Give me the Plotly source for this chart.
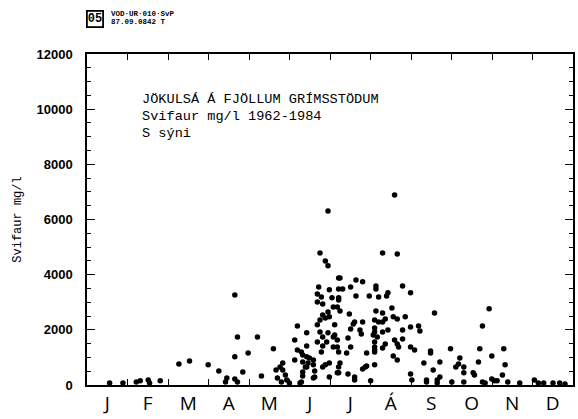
import plotly.graph_objects as go

# Day of year (0-365) and suspended sediment (mg/l)
day = [17, 27, 37, 40, 46, 47, 55, 69, 77, 91, 99, 104, 111, 113, 128, 121, 111, 140, 117, 131,
       142, 143, 111, 113, 105,
       181, 175, 179, 181, 189, 174, 182, 173, 176, 184, 173, 189, 177, 185, 181, 177, 182, 175,
       179, 173, 158, 186, 165, 175, 181, 177, 185, 173, 180, 188, 156, 165, 177, 185, 158, 161,
       176, 189, 162, 165, 167, 156, 170, 162, 166, 170, 179, 182, 164, 147, 147, 162, 171, 189,
       149, 162, 146, 161, 171, 152, 145, 150, 160, 165, 170, 177, 182,
       231, 222, 233, 190, 202, 207, 189, 192, 198, 217, 217, 237, 202, 212, 219, 225, 226, 243,
       189, 188, 190, 197, 217, 222, 229, 239, 201, 207, 200, 216, 219, 222, 224, 230, 233, 216,
       198, 205, 206, 243, 249, 216, 222, 226, 237, 215, 218, 186, 196, 237, 216, 231, 224, 233,
       188, 198, 216, 234, 243, 246, 216, 222, 195, 210, 216, 230, 233, 190, 189, 210, 207, 216,
       188, 196, 201, 243, 201, 213, 244, 209,
       261, 302, 250, 297, 258, 258, 273, 295, 253, 265, 280, 294, 304, 260, 279, 277, 283, 283,
       290, 291, 255, 263, 265, 263, 283, 297, 304, 306, 274, 313, 314, 312, 255, 299, 308, 316,
       325, 336, 339, 343, 350, 355, 359]
value = [70, 70, 110, 150, 180, 70, 150, 760, 870, 730, 510, 110, 3260, 1740, 1740, 1160, 1020,
         1310, 470, 330, 540, 250, 220, 110, 250,
         6310, 4790, 4500, 4320, 3880, 3550, 3450, 3300, 3190, 3160, 3010, 3080, 2940, 2830, 2650,
         2540, 2470, 2360, 2430, 2180, 2140, 2180, 1890, 1920, 1890, 1740, 1740, 1560, 1560, 1630,
         1630, 1410, 1410, 1380, 1270, 1200, 1200, 1200, 1090, 1020, 980, 910, 910, 830, 800, 730,
         730, 800, 650, 800, 540, 470, 510, 440, 360, 330, 110, 110, 290, 70, 650, 180, 70, 650,
         250, 650, 290,
         6890, 4790, 4750, 3880, 3810, 3740, 3480, 3480, 3550, 3590, 3480, 3590, 3230, 3230, 3190,
         3230, 3340, 3340, 3160, 2830, 2680, 2570, 2680, 2610, 2790, 2470, 2280, 2280, 2210, 2360,
         2280, 2280, 2390, 2470, 2390, 2070, 2030, 1990, 1850, 2100, 2140, 1920, 1920, 1990, 1990,
         1810, 1740, 1810, 1700, 1670, 1560, 1630, 1490, 1490, 1380, 1380, 1380, 1380, 1380, 1270,
         1270, 1340, 1160, 1160, 1200, 1050, 910, 800, 650, 690, 580, 730, 440, 400, 290, 400, 180,
         150, 180, 650,
         2610, 2760, 1960, 2140, 1230, 1160, 1310, 1310, 800, 830, 980, 830, 1050, 540, 760, 650,
         650, 440, 440, 360, 180, 180, 290, 70, 110, 110, 220, 150, 110, 1310, 730, 360, 110, 70,
         150, 110, 70, 180, 70, 70, 70, 70, 40]

months = ["J", "F", "M", "A", "M", "J", "J", "Á", "S", "O", "N", "D"]
title_lines = ["JÖKULSÁ Á FJÖLLUM GRÍMSSTÖDUM", "Svifaur mg/l 1962-1984", "S sýni"]
header_tag = "05"
header_lines = ["VOD·UR·010·SvP", "87.09.0842 T"]

year_len = 365.0
month_len = year_len / 12
month_mid = [(i + 0.5) * month_len for i in range(12)]
month_edge = [i * month_len for i in range(13)]

fig = go.Figure()
fig.add_trace(go.Scatter(
    x=day, y=value, mode="markers",
    marker=dict(color="black", size=5.5, line=dict(width=0)),
    cliponaxis=False, showlegend=False, hoverinfo="skip"))
# invisible trace to carry the month-boundary tick axis
fig.add_trace(go.Scatter(x=[0, year_len], y=[0, 0], xaxis="x2", mode="markers",
                         marker=dict(opacity=0), showlegend=False, hoverinfo="skip"))

W, H, L, R, T, B = 578, 419, 87, 5, 54, 34
pw, ph = W - L - R, H - T - B


def px(x):
    return (x - L) / pw


def py(y):
    return 1 - (y - T) / ph


ann = []
for i, t in enumerate(title_lines):
    ann.append(dict(x=px(140), y=py(100 + i * 16.5), xref="paper", yref="paper", text=t,
                    showarrow=False, xanchor="left", yanchor="middle",
                    font=dict(family="Liberation Mono", size=13.6, color="black")))
ann.append(dict(x=px(86), y=py(18.5), xref="paper", yref="paper", text="<b>" + header_tag + "</b>",
                showarrow=False, xanchor="left", yanchor="middle",
                bordercolor="black", borderwidth=1.8, borderpad=0,
                font=dict(family="Liberation Mono", size=12, color="black")))
for i, t in enumerate(header_lines):
    ann.append(dict(x=px(109), y=py(14.5 + i * 7.5), xref="paper", yref="paper",
                    text="<b>" + t + "</b>", showarrow=False, xanchor="left", yanchor="middle",
                    font=dict(family="Liberation Mono", size=7.5, color="black")))

fig.update_layout(
    width=W, height=H,
    margin=dict(l=L, r=R, t=T, b=B, autoexpand=False),
    paper_bgcolor="white", plot_bgcolor="white",
    xaxis=dict(range=[0, year_len], tickmode="array", tickvals=month_mid, ticktext=months,
               ticks="", showline=True, linecolor="black", linewidth=1.5, mirror=True,
               showgrid=False, zeroline=False, ticklabelstandoff=0, automargin=False,
               tickfont=dict(family="Open Sans", size=19, color="black")),
    xaxis2=dict(range=[0, year_len], overlaying="x", anchor="y", side="bottom",
                tickmode="array", tickvals=month_edge, ticks="inside", ticklen=6,
                tickwidth=1.3, tickcolor="black", mirror="ticks", automargin=False,
                showticklabels=False, showgrid=False, zeroline=False, showline=False),
    yaxis=dict(range=[0, 12000], tickmode="linear", tick0=0, dtick=2000, tickformat="d",
               ticks="inside", ticklen=8, tickwidth=1.3, tickcolor="black",
               minor=dict(dtick=500, ticks="inside", ticklen=4, tickwidth=1.2, tickcolor="black"),
               showline=True, linecolor="black", linewidth=1.5, mirror="ticks",
               showgrid=False, zeroline=False, ticklabelstandoff=10, automargin=False,
               tickfont=dict(family="Liberation Sans", size=13, color="black", weight="bold"),
               title=dict(text="Svifaur mg/l", standoff=12,
                          font=dict(family="Liberation Mono", size=12, color="black"))),
    annotations=ann,
)

fig.write_html("out.html")
